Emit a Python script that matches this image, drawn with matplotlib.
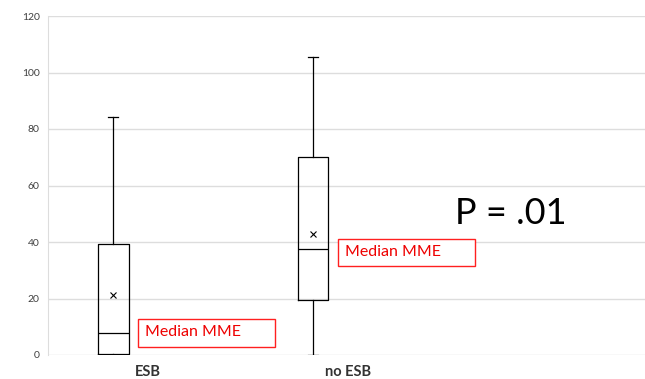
import matplotlib.pyplot as plt
from matplotlib.patches import Rectangle

plt.rcParams['font.family'] = ['Lato', 'DejaVu Sans']

groups = ['ESB', 'no ESB']
whisker_low = [0.0, 0.0]
q1 = [0.5, 19.5]
median = [7.8, 37.5]
q3 = [39.2, 70.0]
whisker_high = [84.2, 105.5]
mean = [21.2, 43.0]
yticks = [0, 20, 40, 60, 80, 100, 120]

positions = [0, 1]

fig = plt.figure(figsize=(6.45, 3.79), dpi=100)
ax = fig.add_axes([48 / 645, 1 - 355 / 379, 597 / 645, 339 / 379])

stats = []
for i, g in enumerate(groups):
    stats.append(dict(label=g, whislo=whisker_low[i], q1=q1[i], med=median[i],
                      q3=q3[i], whishi=whisker_high[i], mean=mean[i], fliers=[]))

ax.bxp(stats, positions=positions, widths=0.155, showmeans=True, meanline=False,
       boxprops=dict(color='black', linewidth=0.9),
       medianprops=dict(color='black', linewidth=0.9),
       whiskerprops=dict(color='black', linewidth=0.9),
       capprops=dict(color='black', linewidth=0.9),
       capwidths=0.05,
       meanprops=dict(marker='x', markeredgecolor='black', markersize=4.5,
                      markeredgewidth=0.8),
       zorder=3)

ax.set_xlim(-0.325, 2.66)
ax.set_ylim(0, 120)
ax.set_yticks(yticks)
ax.tick_params(axis='y', labelsize=7.5, colors='#404040', length=0, pad=6)
ax.set_xticks([p + 0.175 for p in positions])
ax.set_xticklabels(groups, fontsize=10.5, fontweight='bold', color='#333333')
ax.tick_params(axis='x', length=0, pad=7)
ax.grid(axis='y', color='#dddddd', linewidth=1)
ax.set_axisbelow(True)
for s in ['top', 'right', 'bottom']:
    ax.spines[s].set_visible(False)
ax.spines['left'].set_color('#dddddd')

# red "Median MME" callouts next to each median line
callout_y = [7.8, 36.3]
for pos, cy in zip(positions, callout_y):
    x0 = pos + 0.125
    ax.add_patch(Rectangle((x0, cy - 4.9), 0.685, 9.8, facecolor='white',
                           edgecolor='#ff2020', linewidth=1, zorder=4))
    ax.text(x0 + 0.035, cy + 0.3, 'Median MME', color='#ee0000', fontsize=11.5,
            ha='left', va='center', zorder=5)

ax.text(1.99, 50, 'P = .01', fontsize=26, ha='center', va='center', color='black')

fig.savefig('out.png', dpi=100)
